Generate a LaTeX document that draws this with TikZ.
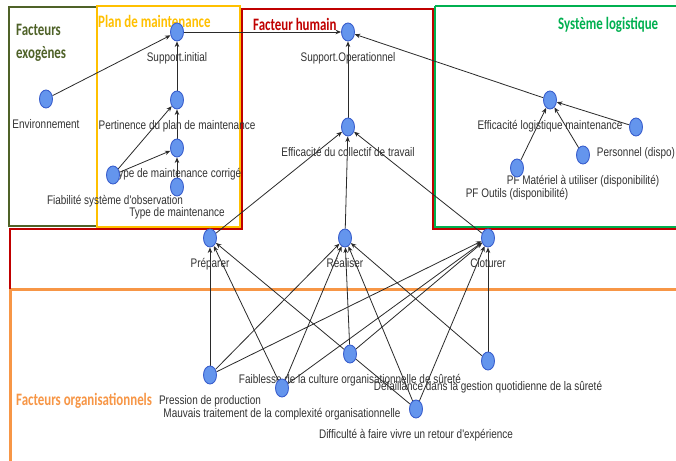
\documentclass[tikz,border=0pt]{standalone}
\usepackage{fontspec}
\setmainfont{Liberation Sans}
\newfontfamily\lblfont[FakeStretch=0.8]{Liberation Sans}
\newfontfamily\ttlfont[FakeStretch=0.74]{Carlito}
\usetikzlibrary{shapes.geometric,arrows.meta}
\definecolor{olivec}{HTML}{4F6228}
\definecolor{goldc}{HTML}{FFC000}
\definecolor{redc}{HTML}{C00000}
\definecolor{greenc}{HTML}{00B050}
\definecolor{orangec}{HTML}{F79646}
\definecolor{nodefill}{HTML}{6495ED}
\definecolor{nodeborder}{HTML}{3A5FCD}
\definecolor{edgegray}{HTML}{2A2A2A}
\definecolor{labelgray}{HTML}{333333}
\pgfdeclarelayer{boxes}
\pgfdeclarelayer{edges}
\pgfsetlayers{boxes,edges,main}
\tikzset{
  bn/.style={ellipse, draw=nodeborder, fill=nodefill, line width=0.9bp,
    minimum width=13bp, minimum height=18bp, inner sep=0pt},
  lbl/.style={font=\lblfont\fontsize{12.5}{13}\selectfont, text=labelgray,
    inner sep=0pt, text height=9bp, text depth=2.6bp, label distance=10.5bp},
  edge/.style={draw=edgegray, line width=0.8bp, -{Stealth[length=5.5bp,width=4.5bp]}},
  ttl/.style={font=\ttlfont\bfseries\fontsize{17.5}{23.5}\selectfont, inner sep=0pt},
  frame/.style={line width=2.2bp},
}
\begin{document}
\begin{tikzpicture}[x=1bp,y=-1bp]
\useasboundingbox (0,0) rectangle (676,461);

% frames
\begin{pgfonlayer}{boxes}
\fill[white] (0,0) rectangle (676,461);
\draw[frame, orangec, line width=3bp] (10,470) -- (10,290) -- (690,290);
\draw[frame, redc, line width=2.6bp] (10,289) -- (10,229) -- (242,229) -- (242,9) -- (433,9) -- (433,229) -- (690,229);
\draw[frame, olivec] (9,7) rectangle (97,226);
\draw[frame, goldc] (97,6) rectangle (240,227);
\draw[frame, greenc] (435,6) -- (690,6) (435,6) -- (435,227) -- (690,227);
\end{pgfonlayer}

% titles
\node[ttl, text=olivec, align=left, anchor=north west] (t1) at (16,24) {Facteurs\\exogènes};
\node[ttl, text=goldc, anchor=west] (t2) at (98,21) {Plan de maintenance};
\node[ttl, text=redc, anchor=west] (t3) at (253,24) {Facteur humain};
\node[ttl, text=greenc, anchor=west] (t4) at (558,24.5) {Système logistique};
\node[ttl, text=orangec, anchor=west] (t5) at (16,400.5) {Facteurs organisationnels};

% nodes
\node[bn, label={[lbl]below:Support.initial}] (si) at (177,32) {};
\node[bn, label={[lbl]below:Support.Operationnel}] (so) at (348,32) {};
\node[bn, label={[lbl]below:Environnement}] (env) at (46,99) {};
\node[bn, label={[lbl]below:Pertinence du plan de maintenance}] (pert) at (177,100) {};
\node[bn, label={[lbl]below:Type de maintenance corrigé}] (tmc) at (177,148) {};
\node[bn, label={[lbl]below:Type de maintenance}] (tm) at (177,187) {};
\node[bn, label={[lbl,xshift=2bp]below:Fiabilité système d'observation}] (fiab) at (113,175) {};
\node[bn, label={[lbl]below:Efficacité du collectif de travail}] (effc) at (348,127) {};
\node[bn, label={[lbl]below:Efficacité logistique maintenance}] (effl) at (550,100) {};
\node[bn, label={[lbl]below:Personnel (dispo)}] (pers) at (636,127) {};
\node[bn, label={[lbl]below:PF Matériel à utiliser (disponibilité)}] (mat) at (583,155) {};
\node[bn, label={[lbl]below:PF Outils (disponibilité)}] (out) at (517,168) {};
\node[bn, label={[lbl]below:Préparer}] (prep) at (210,238) {};
\node[bn, label={[lbl]below:Réaliser}] (real) at (345,238) {};
\node[bn, label={[lbl]below:Cloturer}] (clot) at (488,238) {};
\node[bn, label={[lbl]below:Pression de production}] (press) at (210,375) {};
\node[bn, label={[lbl]below:Faiblesse de la culture organisationnelle de sûreté}] (faib) at (350,354) {};
\node[bn, label={[lbl]below:Défaillance dans la gestion quotidienne de la sûreté}] (def) at (488,361) {};
\node[bn, label={[lbl]below:Mauvais traitement de la complexité organisationnelle}] (mauv) at (282,388) {};
\node[bn, label={[lbl]below:Difficulté à faire vivre un retour d'expérience}] (diff) at (416,409) {};

% connectors
\begin{pgfonlayer}{edges}
\draw[edge] (env) -- (si);
\draw[edge] (pert) -- (si);
\draw[edge] (tmc) -- (pert);
\draw[edge] (fiab) -- (pert);
\draw[edge] (fiab) -- (tmc);
\draw[edge] (tm) -- (tmc);
\draw[edge] (si) -- (so);
\draw[edge] (effc) -- (so);
\draw[edge] (effl) -- (so);
\draw[edge] (out) -- (effl);
\draw[edge] (mat) -- (effl);
\draw[edge] (pers) -- (effl);
\draw[edge] (prep) -- (effc);
\draw[edge] (real) -- (effc);
\draw[edge] (clot) -- (effc);
\draw[edge] (press) -- (prep);
\draw[edge] (press) -- (real);
\draw[edge] (press) -- (clot);
\draw[edge] (mauv) -- (prep);
\draw[edge] (mauv) -- (real);
\draw[edge] (mauv) -- (clot);
\draw[edge] (faib) -- (real);
\draw[edge] (faib) -- (clot);
\draw[edge] (diff) -- (prep);
\draw[edge] (diff) -- (real);
\draw[edge] (diff) -- (clot);
\draw[edge] (def) -- (real);
\draw[edge] (def) -- (clot);
\end{pgfonlayer}
\end{tikzpicture}
\end{document}
